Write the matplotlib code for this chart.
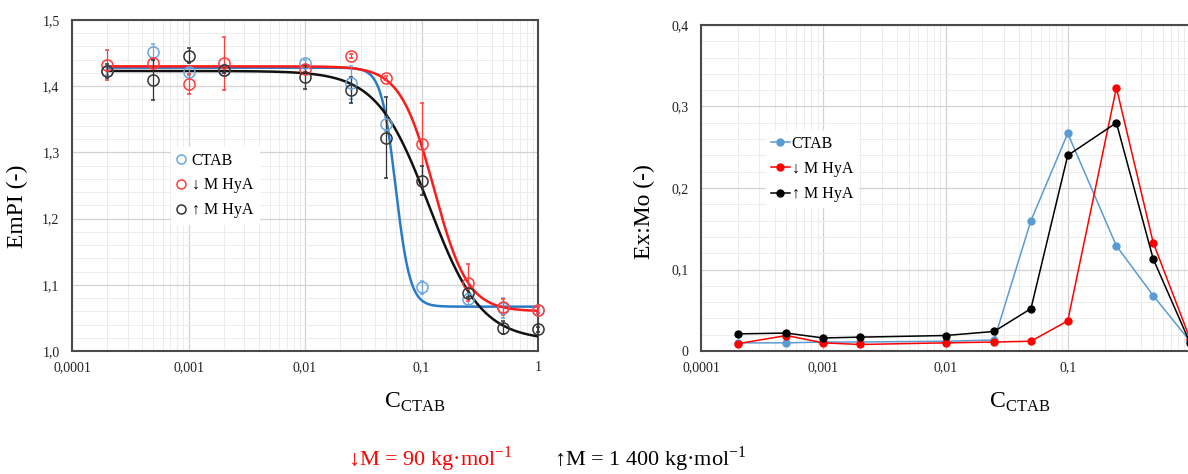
import numpy as np
import matplotlib
matplotlib.use('Agg')
import matplotlib.pyplot as plt
from matplotlib.ticker import FixedLocator, LogLocator, MultipleLocator, FuncFormatter, NullFormatter
from matplotlib.lines import Line2D

plt.rcParams['font.family'] = ['Liberation Serif', 'DejaVu Serif']
plt.rcParams['mathtext.fontset'] = 'custom'
plt.rcParams['mathtext.rm'] = 'Liberation Serif'

# ---------------- data ----------------
conc = [0.0002, 0.0005, 0.001, 0.002, 0.01, 0.025, 0.05, 0.1, 0.25, 0.5, 1]
series_names = ['CTAB', '↓ M HyA', '↑ M HyA']

empi_ctab = [1.423, 1.451, 1.422, 1.424, 1.435, 1.405, 1.343, 1.096, 1.078, 1.065, 1.062]
empi_low = [1.432, 1.435, 1.403, 1.435, 1.426, 1.445, 1.413, 1.312, 1.103, 1.067, 1.062]
empi_high = [1.423, 1.409, 1.446, 1.424, 1.414, 1.394, 1.322, 1.257, 1.088, 1.035, 1.033]

err_ctab = [0.006, 0.012, 0.005, 0.004, 0.005, 0.025, 0.010, 0.010, 0.008, 0.015, 0.004]
err_low = [0.023, 0.006, 0.015, 0.040, 0.005, 0.003, 0.003, 0.063, 0.028, 0.012, 0.004]
err_high = [0.010, 0.030, 0.011, 0.004, 0.018, 0.020, 0.061, 0.022, 0.006, 0.010, 0.004]

# fitted sigmoid parameters (top, bottom, x50, slope)
fit_ctab = (1.428, 1.067, 0.060, 7.0)
fit_low = (1.430, 1.060, 0.128, 3.0)
fit_high = (1.423, 1.016, 0.116, 1.94)

exmo_ctab = [0.010, 0.010, 0.011, 0.011, 0.012, 0.0135, 0.160, 0.267, 0.129, 0.068, 0.012]
exmo_low = [0.009, 0.019, 0.010, 0.008, 0.010, 0.011, 0.012, 0.037, 0.323, 0.133, 0.015]
exmo_high = [0.021, 0.022, 0.016, 0.017, 0.019, 0.024, 0.052, 0.240, 0.280, 0.113, 0.010]

xtick_vals = [0.0001, 0.001, 0.01, 0.1, 1]
xtick_labels = ['0,0001', '0,001', '0,01', '0,1', '1']

# ---------------- styling ----------------
W, H = 1188, 474
fig = plt.figure(figsize=(W / 100, H / 100), dpi=100)

def px_axes(l, r, t, b):
    return fig.add_axes([l / W, 1 - b / H, (r - l) / W, (b - t) / H])

ax1 = px_axes(72, 538, 20, 351)
ax2 = px_axes(701, 1190, 25, 351)

def comma(v, pos):
    if abs(v) < 1e-12:
        return '0'
    return f'{v:.1f}'.replace('.', ',')

for ax in (ax1, ax2):
    ax.set_xscale('log')
    ax.set_xlim(1e-4, 1)
    ax.xaxis.set_major_locator(FixedLocator(xtick_vals))
    ax.set_xticklabels(xtick_labels)
    ax.xaxis.set_minor_locator(LogLocator(base=10, subs=np.arange(2, 10)))
    ax.xaxis.set_minor_formatter(NullFormatter())
    ax.yaxis.set_major_locator(MultipleLocator(0.1))
    ax.yaxis.set_minor_locator(MultipleLocator(0.02))
    ax.yaxis.set_major_formatter(FuncFormatter(comma))
    ax.grid(which='major', color='#d2d2d2', lw=0.9, zorder=0)
    ax.grid(which='minor', color='#ececec', lw=0.7, zorder=0)
    ax.set_axisbelow(True)
    ax.tick_params(which='both', length=0, labelsize=10, colors='#222222')
    ax.tick_params(axis='x', pad=7)
    ax.tick_params(axis='y', pad=9)
    for sp in ax.spines.values():
        sp.set_color('#4a4a4a')
        sp.set_linewidth(1.5)

ax1.set_xlabel(r'$\mathrm{C}_{\mathrm{CTAB}}$', fontsize=17, labelpad=12, x=(415 - 72) / 466)
ax2.set_xlabel(r'$\mathrm{C}_{\mathrm{CTAB}}$', fontsize=17, labelpad=12, x=(1020 - 701) / 489)

ax1.set_ylim(1.0, 1.5)
ax2.set_ylim(0, 0.4)

# ---------------- left panel ----------------
blue_m, blue_l = '#6aa6dc', '#2a7bc6'
red_m, red_l = '#ff3b3b', '#ff1a1a'
blk_m, blk_l = '#333333', '#111111'

xs = np.logspace(np.log10(conc[0]), 0, 400)
def sig(p):
    top, bot, x0, s = p
    return bot + (top - bot) / (1 + (xs / x0) ** s)

ax1.plot(xs, sig(fit_ctab), color=blue_l, lw=1.8, zorder=3)
ax1.plot(xs, sig(fit_high), color=blk_l, lw=1.8, zorder=3)
ax1.plot(xs, sig(fit_low), color=red_l, lw=1.8, zorder=3)

for y, e, c in ((empi_ctab, err_ctab, blue_m), (empi_low, err_low, red_m), (empi_high, err_high, blk_m)):
    cont = ax1.errorbar(conc, y, yerr=e, fmt='o', ms=8, mfc='none', mec=c, mew=1.1,
                        ecolor=c, elinewidth=0.9, capsize=1.5, capthick=0.9, zorder=4)
    for art in cont.get_children():
        art.set_clip_on(False)

ax1.set_ylabel('EmPI (-)', fontsize=17, labelpad=10, y=(351 - 206) / 331)

h1 = [Line2D([], [], ls='none', marker='o', ms=6.5, mfc='none', mec=c, mew=1.1)
      for c in (blue_m, red_m, blk_m)]
leg1 = ax1.legend(h1, series_names, loc='upper left', bbox_to_anchor=((163 - 72) / 466, 1 - (139 - 20) / 331),
                  frameon=True, fancybox=False, framealpha=1, edgecolor='white', facecolor='white',
                  fontsize=11.5, handlelength=0.6, handletextpad=0.35, labelspacing=0.55, borderpad=0.35)
leg1.set_zorder(5)

# ---------------- right panel ----------------
ax2.plot(conc, exmo_ctab, '-o', color='#5b9bd5', lw=1.1, ms=5, zorder=3, label=series_names[0])
ax2.plot(conc, exmo_low, '-o', color='#ff0000', lw=1.1, ms=5, zorder=3, label=series_names[1])
ax2.plot(conc, exmo_high, '-o', color='#000000', lw=1.1, ms=5, zorder=3, label=series_names[2])
ax2.set_ylabel('Ex:Mo (-)', fontsize=17, labelpad=12, y=(351 - 212) / 326)
leg2 = ax2.legend(loc='upper left', bbox_to_anchor=((758 - 701) / 489, 1 - (123 - 25) / 326),
                  frameon=True, fancybox=False, framealpha=1, edgecolor='white', facecolor='white',
                  fontsize=11.5, handlelength=1.2, handletextpad=0.1, labelspacing=0.58, borderpad=0.3)

# ---------------- bottom annotations ----------------
fig.text(430 / W, 1 - 459 / H, r'↓M = 90 kg·mol$^{\mathrm{-1}}$', color='#ff0000',
         fontsize=16, ha='center', va='center')
fig.text(650 / W, 1 - 459 / H, r'↑M = 1 400 kg·mol$^{\mathrm{-1}}$', color='#000000',
         fontsize=16, ha='center', va='center')

fig.savefig('out.png', dpi=100)
